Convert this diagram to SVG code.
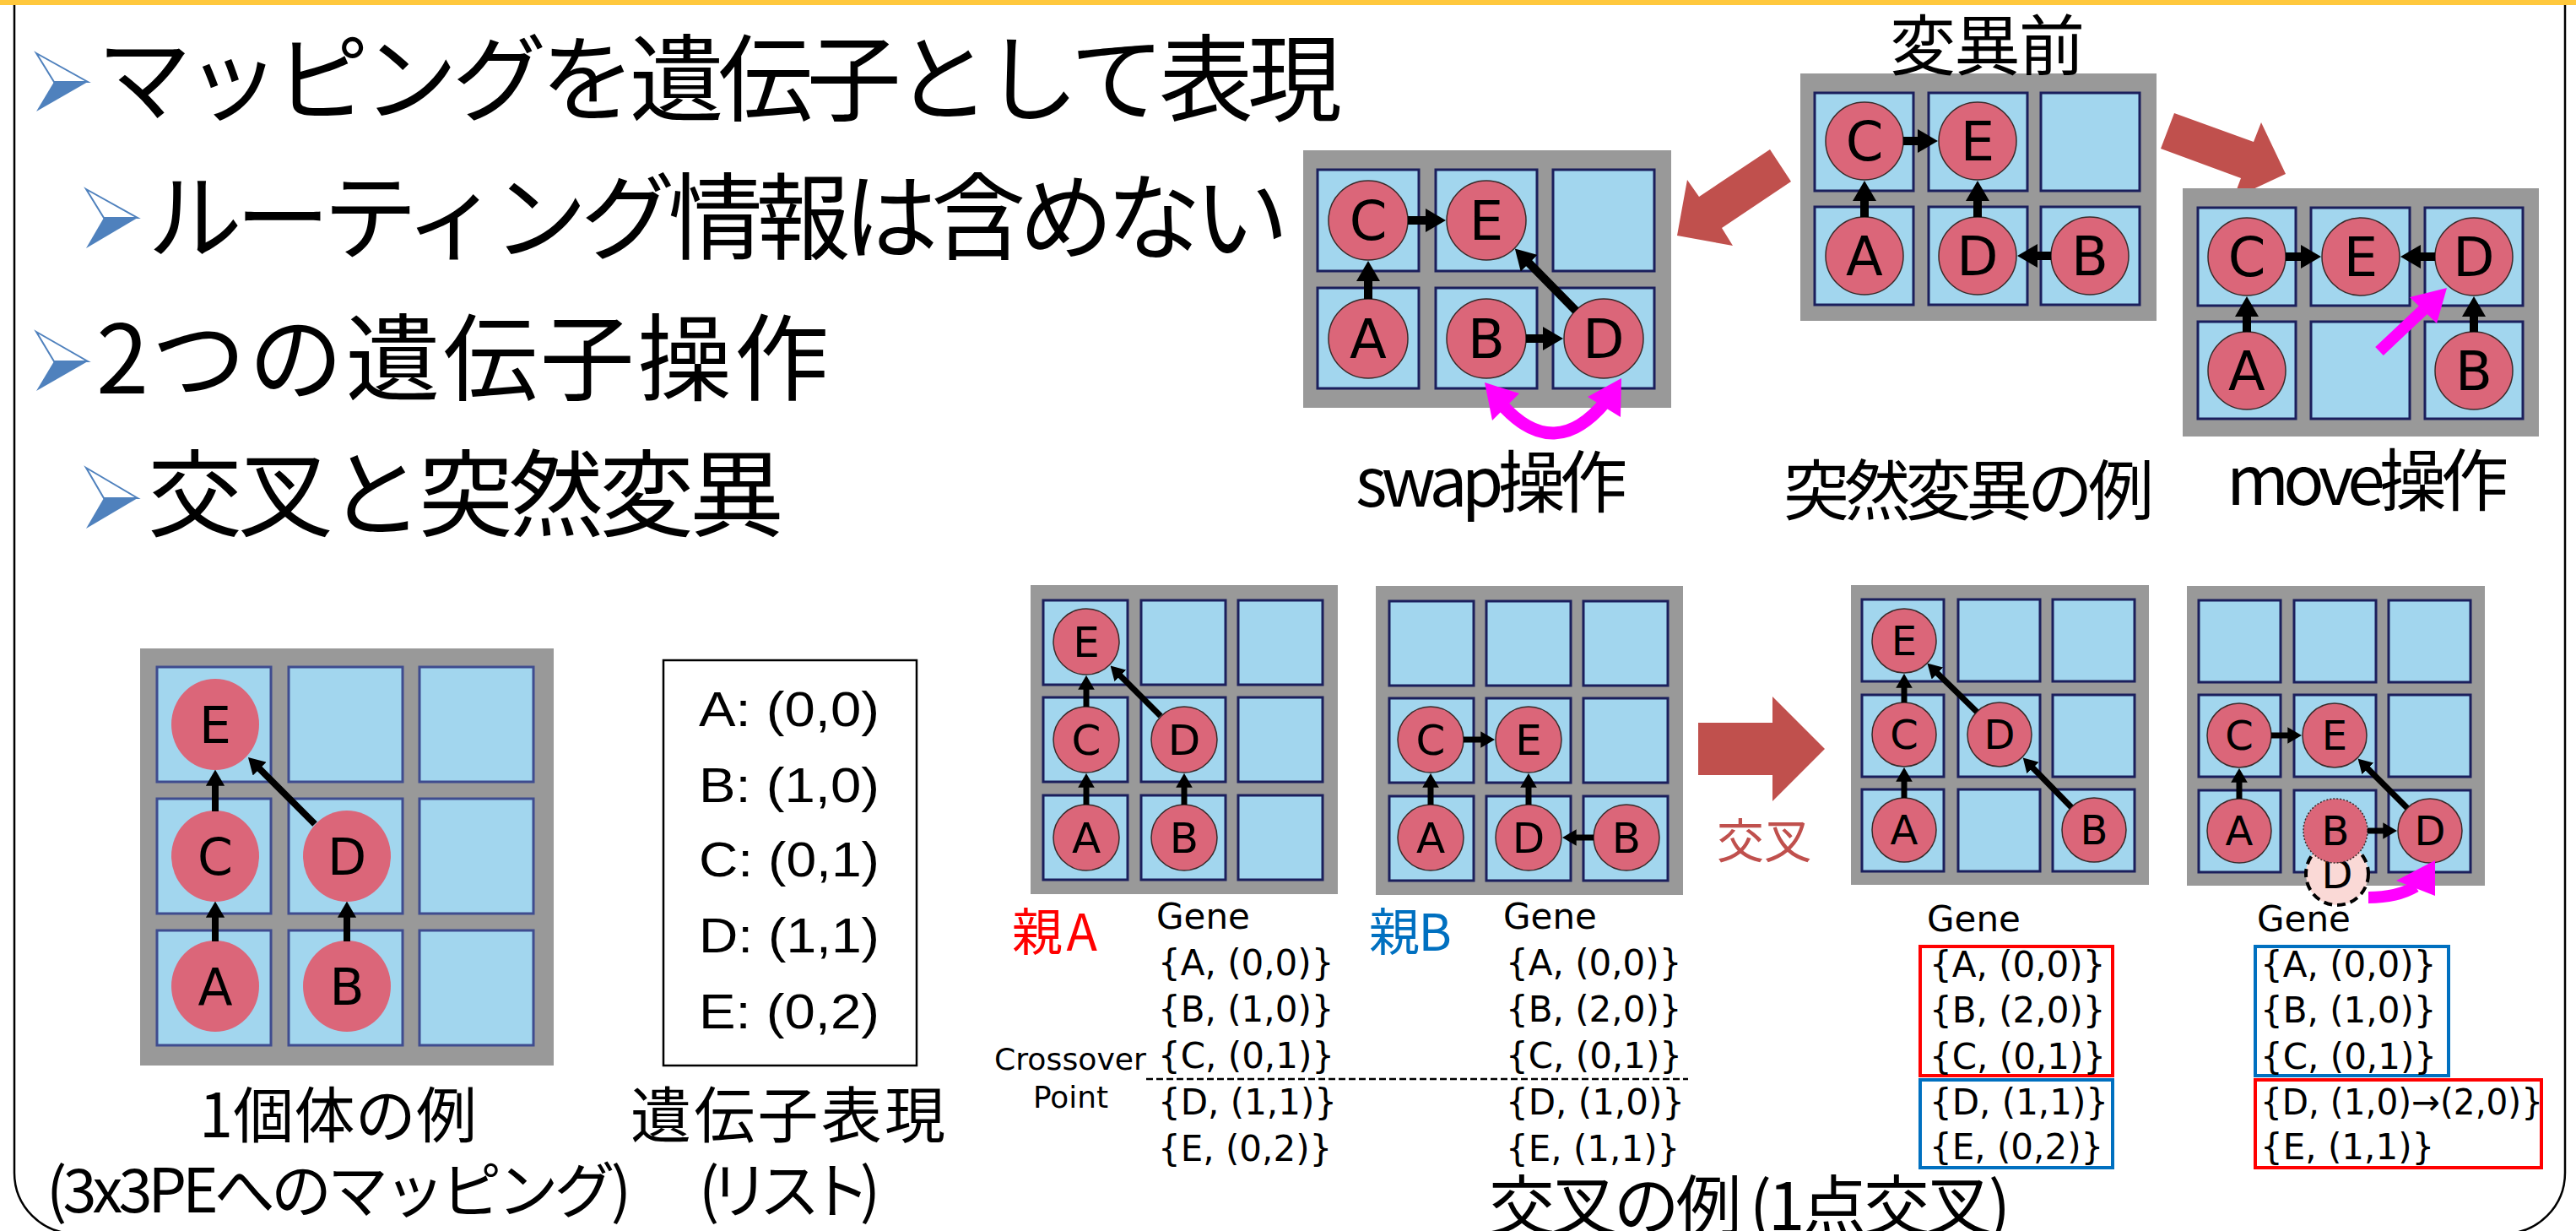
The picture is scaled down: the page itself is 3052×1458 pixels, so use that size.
<svg xmlns="http://www.w3.org/2000/svg" width="3052" height="1458" viewBox="0 0 3052 1458">
<defs>
<style>
.gray{fill:#999999}
.cell{fill:#A2D6EE;stroke:#1B1F5C;stroke-width:3}
.cellsoft{fill:#A2D6EE;stroke:#3F4C8F;stroke-width:3}
.node circle,.node ellipse{fill:#DB6679;stroke:#3A2A2A;stroke-width:1.5}
.soft ellipse{stroke:none}
.nl{font-family:"DejaVu Sans",sans-serif;text-anchor:middle;fill:#000}
.f64{font-size:64px}.f60{font-size:60px}.f50{font-size:50px}.f48{font-size:48px}
.e10{stroke:#000;stroke-width:10;fill:none;marker-end:url(#ah)}
.e8{stroke:#000;stroke-width:8;fill:none;marker-end:url(#ah)}
.e7{stroke:#000;stroke-width:7;fill:none;marker-end:url(#ah)}
.jp{font-family:"Noto Sans CJK JP",sans-serif;fill:#000}
.title{font-size:112px}
.lab{font-size:80px}
.gene{font-family:"DejaVu Sans",sans-serif;font-size:42px;fill:#000}
.list{font-family:"Liberation Sans",sans-serif;font-size:58px;text-anchor:middle;fill:#000}
.bigarrow{fill:#C0504D}
.mag{fill:#FF00FF}
.magl{stroke:#FF00FF;fill:none}
</style>
<marker id="ah" viewBox="0 0 12 14" refX="0.5" refY="7" markerWidth="2.4" markerHeight="2.8" orient="auto" markerUnits="strokeWidth"><path d="M0,0 L12,7 L0,14 Z" fill="#000"/></marker>
</defs>
<rect width="3052" height="1458" fill="#fff"/>
<g id="frame">
<path d="M17,0 V1389 A72,72 0 0 0 89,1461 H2967 A72,72 0 0 0 3039,1389 V0" fill="none" stroke="#000" stroke-width="2.5"/>
<rect x="0" y="0" width="3052" height="6" fill="#FFC83D"/>
</g>

<g id="bullets">
<g id="b1"><polygon points="43,63 104,97 64,97" fill="#fff" stroke="#4F81BD" stroke-width="2"/><polygon points="64,97 104,97 43,132" fill="#4F81BD"/></g>
<g id="b2"><polygon points="102,224 163,258 123,258" fill="#fff" stroke="#4F81BD" stroke-width="2"/><polygon points="123,258 163,258 102,294" fill="#4F81BD"/></g>
<g id="b3"><polygon points="43,393 104,428 64,428" fill="#fff" stroke="#4F81BD" stroke-width="2"/><polygon points="64,428 104,428 43,463" fill="#4F81BD"/></g>
<g id="b4"><polygon points="102,554 163,590 123,590" fill="#fff" stroke="#4F81BD" stroke-width="2"/><polygon points="123,590 163,590 102,626" fill="#4F81BD"/></g>
<text class="jp title" x="115" y="135" textLength="1475" lengthAdjust="spacing">マッピングを遺伝子として表現</text>
<text class="jp title" x="175" y="299" textLength="1352" lengthAdjust="spacing">ルーティング情報は含めない</text>
<text class="jp title" x="114" y="466" textLength="868" lengthAdjust="spacing">2つの遺伝子操作</text>
<text class="jp title" x="175" y="627" textLength="754" lengthAdjust="spacing">交叉と突然変異</text>
</g>

<!-- big red arrows -->
<g id="redarrows">
<polygon class="bigarrow" points="2097,177 2122,215 2040,270 2053,291 1987,279 1999,213 2013,233"/>
<polygon class="bigarrow" points="2576,134 2670,168 2679,145 2708,206 2646,235 2655,211 2560,176"/>
<polygon class="bigarrow" points="2012,856 2100,856 2100,825 2162,887 2100,949 2100,918 2012,918"/>
<text class="jp" x="2034" y="1016" font-size="56" style="fill:#C0504D" textLength="112" lengthAdjust="spacing">交叉</text>
</g>

<!-- swap grid -->
<g id="swap">
<rect class="gray" x="1544" y="178" width="436" height="305"/>
<rect class="cell" x="1561" y="201" width="120" height="120"/><rect class="cell" x="1701" y="201" width="120" height="120"/><rect class="cell" x="1840" y="201" width="120" height="120"/>
<rect class="cell" x="1561" y="341" width="120" height="119"/><rect class="cell" x="1701" y="341" width="120" height="119"/><rect class="cell" x="1840" y="341" width="120" height="119"/>
<g id="swap-C" class="node"><circle cx="1621" cy="261" r="47"/><text class="nl f64" x="1621" y="284">C</text></g>
<g id="swap-E" class="node"><circle cx="1761" cy="261" r="47"/><text class="nl f64" x="1761" y="284">E</text></g>
<g id="swap-A" class="node"><circle cx="1621" cy="401" r="47"/><text class="nl f64" x="1621" y="424">A</text></g>
<g id="swap-B" class="node"><circle cx="1761" cy="401" r="47"/><text class="nl f64" x="1761" y="424">B</text></g>
<g id="swap-D" class="node"><circle cx="1900" cy="401" r="47"/><text class="nl f64" x="1900" y="424">D</text></g>
</g>
<!-- before grid -->
<g id="before">
<rect class="gray" x="2133" y="87" width="422" height="293"/>
<rect class="cell" x="2150" y="110" width="117" height="116"/><rect class="cell" x="2285" y="110" width="117" height="116"/><rect class="cell" x="2418" y="110" width="117" height="116"/>
<rect class="cell" x="2150" y="245" width="117" height="116"/><rect class="cell" x="2285" y="245" width="117" height="116"/><rect class="cell" x="2418" y="245" width="117" height="116"/>
<g id="before-C" class="node"><circle cx="2209" cy="167" r="46"/><text class="nl f64" x="2209" y="190">C</text></g>
<g id="before-E" class="node"><circle cx="2343" cy="167" r="46"/><text class="nl f64" x="2343" y="190">E</text></g>
<g id="before-A" class="node"><circle cx="2209" cy="303" r="46"/><text class="nl f64" x="2209" y="326">A</text></g>
<g id="before-D" class="node"><circle cx="2343" cy="303" r="46"/><text class="nl f64" x="2343" y="326">D</text></g>
<g id="before-B" class="node"><circle cx="2476" cy="303" r="46"/><text class="nl f64" x="2476" y="326">B</text></g>
</g>
<!-- move grid -->
<g id="move">
<rect class="gray" x="2586" y="223" width="422" height="294"/>
<rect class="cell" x="2604" y="246" width="116" height="116"/><rect class="cell" x="2738" y="246" width="117" height="116"/><rect class="cell" x="2873" y="246" width="116" height="116"/>
<rect class="cell" x="2604" y="381" width="116" height="115"/><rect class="cell" x="2738" y="381" width="117" height="115"/><rect class="cell" x="2873" y="381" width="116" height="115"/>
<g id="move-C" class="node"><circle cx="2662" cy="304" r="46"/><text class="nl f64" x="2662" y="327">C</text></g>
<g id="move-E" class="node"><circle cx="2797" cy="304" r="46"/><text class="nl f64" x="2797" y="327">E</text></g>
<g id="move-D" class="node"><circle cx="2931" cy="304" r="46"/><text class="nl f64" x="2931" y="327">D</text></g>
<g id="move-A" class="node"><circle cx="2662" cy="439" r="46"/><text class="nl f64" x="2662" y="462">A</text></g>
<g id="move-B" class="node"><circle cx="2931" cy="439" r="46"/><text class="nl f64" x="2931" y="462">B</text></g>
</g>

<!-- individual example -->
<g id="indiv">
<rect class="gray" x="166" y="768" width="490" height="494"/>
<rect class="cellsoft" x="186" y="790" width="135" height="136"/><rect class="cellsoft" x="342" y="790" width="135" height="136"/><rect class="cellsoft" x="497" y="790" width="135" height="136"/>
<rect class="cellsoft" x="186" y="946" width="135" height="136"/><rect class="cellsoft" x="342" y="946" width="135" height="136"/><rect class="cellsoft" x="497" y="946" width="135" height="136"/>
<rect class="cellsoft" x="186" y="1102" width="135" height="136"/><rect class="cellsoft" x="342" y="1102" width="135" height="136"/><rect class="cellsoft" x="497" y="1102" width="135" height="136"/>
<g id="indiv-E" class="node soft"><ellipse cx="255" cy="858" rx="52" ry="54"/><text class="nl f60" x="255" y="880">E</text></g>
<g id="indiv-C" class="node soft"><ellipse cx="255" cy="1014" rx="52" ry="54"/><text class="nl f60" x="255" y="1036">C</text></g>
<g id="indiv-D" class="node soft"><ellipse cx="411" cy="1014" rx="52" ry="54"/><text class="nl f60" x="411" y="1036">D</text></g>
<g id="indiv-A" class="node soft"><ellipse cx="255" cy="1168" rx="52" ry="54"/><text class="nl f60" x="255" y="1190">A</text></g>
<g id="indiv-B" class="node soft"><ellipse cx="411" cy="1168" rx="52" ry="54"/><text class="nl f60" x="411" y="1190">B</text></g>
</g>
<g id="genelist">
<rect x="786" y="782" width="300" height="480" fill="none" stroke="#000" stroke-width="2.5"/>
<text class="list" x="935" y="860" textLength="214" lengthAdjust="spacingAndGlyphs">A: (0,0)</text>
<text class="list" x="935" y="950" textLength="214" lengthAdjust="spacingAndGlyphs">B: (1,0)</text>
<text class="list" x="935" y="1038" textLength="214" lengthAdjust="spacingAndGlyphs">C: (0,1)</text>
<text class="list" x="935" y="1128" textLength="214" lengthAdjust="spacingAndGlyphs">D: (1,1)</text>
<text class="list" x="935" y="1218" textLength="214" lengthAdjust="spacingAndGlyphs">E: (0,2)</text>
</g>

<!-- parent A -->
<g id="parentA">
<rect class="gray" x="1221" y="693" width="364" height="366"/>
<rect class="cell" x="1236" y="711" width="100" height="100"/><rect class="cell" x="1352" y="711" width="100" height="100"/><rect class="cell" x="1467" y="711" width="100" height="100"/>
<rect class="cell" x="1236" y="826" width="100" height="100"/><rect class="cell" x="1352" y="826" width="100" height="100"/><rect class="cell" x="1467" y="826" width="100" height="100"/>
<rect class="cell" x="1236" y="942" width="100" height="100"/><rect class="cell" x="1352" y="942" width="100" height="100"/><rect class="cell" x="1467" y="942" width="100" height="100"/>
<g id="pA-E" class="node"><circle cx="1287" cy="760" r="39"/><text class="nl f50" x="1287" y="778">E</text></g>
<g id="pA-C" class="node"><circle cx="1287" cy="876" r="39"/><text class="nl f50" x="1287" y="894">C</text></g>
<g id="pA-A" class="node"><circle cx="1287" cy="992" r="39"/><text class="nl f50" x="1287" y="1010">A</text></g>
<g id="pA-D" class="node"><circle cx="1403" cy="876" r="39"/><text class="nl f50" x="1403" y="894">D</text></g>
<g id="pA-B" class="node"><circle cx="1403" cy="992" r="39"/><text class="nl f50" x="1403" y="1010">B</text></g>
</g>
<!-- parent B -->
<g id="parentB">
<rect class="gray" x="1630" y="694" width="364" height="366"/>
<rect class="cell" x="1646" y="712" width="100" height="100"/><rect class="cell" x="1761" y="712" width="100" height="100"/><rect class="cell" x="1876" y="712" width="100" height="100"/>
<rect class="cell" x="1646" y="827" width="100" height="100"/><rect class="cell" x="1761" y="827" width="100" height="100"/><rect class="cell" x="1876" y="827" width="100" height="100"/>
<rect class="cell" x="1646" y="943" width="100" height="100"/><rect class="cell" x="1761" y="943" width="100" height="100"/><rect class="cell" x="1876" y="943" width="100" height="100"/>
<g id="pB-C" class="node"><circle cx="1695" cy="876" r="39"/><text class="nl f50" x="1695" y="894">C</text></g>
<g id="pB-E" class="node"><circle cx="1811" cy="876" r="39"/><text class="nl f50" x="1811" y="894">E</text></g>
<g id="pB-A" class="node"><circle cx="1695" cy="992" r="39"/><text class="nl f50" x="1695" y="1010">A</text></g>
<g id="pB-D" class="node"><circle cx="1811" cy="992" r="39"/><text class="nl f50" x="1811" y="1010">D</text></g>
<g id="pB-B" class="node"><circle cx="1927" cy="992" r="39"/><text class="nl f50" x="1927" y="1010">B</text></g>
</g>
<!-- child 1 -->
<g id="child1">
<rect class="gray" x="2193" y="693" width="353" height="355"/>
<rect class="cell" x="2206" y="710" width="97" height="97"/><rect class="cell" x="2320" y="710" width="97" height="97"/><rect class="cell" x="2432" y="710" width="97" height="97"/>
<rect class="cell" x="2206" y="823" width="97" height="97"/><rect class="cell" x="2320" y="823" width="97" height="97"/><rect class="cell" x="2432" y="823" width="97" height="97"/>
<rect class="cell" x="2206" y="935" width="97" height="97"/><rect class="cell" x="2320" y="935" width="97" height="97"/><rect class="cell" x="2432" y="935" width="97" height="97"/>
<g id="c1-E" class="node"><circle cx="2256" cy="759" r="38"/><text class="nl f48" x="2256" y="776">E</text></g>
<g id="c1-C" class="node"><circle cx="2256" cy="870" r="38"/><text class="nl f48" x="2256" y="887">C</text></g>
<g id="c1-A" class="node"><circle cx="2256" cy="983" r="38"/><text class="nl f48" x="2256" y="1000">A</text></g>
<g id="c1-D" class="node"><circle cx="2369" cy="870" r="38"/><text class="nl f48" x="2369" y="887">D</text></g>
<g id="c1-B" class="node"><circle cx="2481" cy="983" r="38"/><text class="nl f48" x="2481" y="1000">B</text></g>
</g>
<!-- child 2 -->
<g id="child2">
<rect class="gray" x="2591" y="694" width="353" height="355"/>
<rect class="cell" x="2605" y="711" width="97" height="97"/><rect class="cell" x="2718" y="711" width="97" height="97"/><rect class="cell" x="2830" y="711" width="97" height="97"/>
<rect class="cell" x="2605" y="823" width="97" height="97"/><rect class="cell" x="2718" y="823" width="97" height="97"/><rect class="cell" x="2830" y="823" width="97" height="97"/>
<rect class="cell" x="2605" y="936" width="97" height="97"/><rect class="cell" x="2718" y="936" width="97" height="97"/><rect class="cell" x="2830" y="936" width="97" height="97"/>
<g id="c2-ghostD"><circle cx="2769" cy="1035" r="37" fill="#FAD9D6" stroke="#000" stroke-width="4" stroke-dasharray="10,6"/><text class="nl f48" x="2769" y="1052">D</text></g>
<g id="c2-C" class="node"><circle cx="2653" cy="871" r="38"/><text class="nl f48" x="2653" y="888">C</text></g>
<g id="c2-E" class="node"><circle cx="2766" cy="871" r="38"/><text class="nl f48" x="2766" y="888">E</text></g>
<g id="c2-A" class="node"><circle cx="2653" cy="984" r="38"/><text class="nl f48" x="2653" y="1001">A</text></g>
<g id="c2-B" class="node"><circle cx="2767" cy="984" r="38" style="stroke-dasharray:2,2"/><text class="nl f48" x="2767" y="1001">B</text></g>
<g id="c2-D" class="node"><circle cx="2879" cy="984" r="38"/><text class="nl f48" x="2879" y="1001">D</text></g>
</g>

<!-- connectors -->
<g id="connectors">
<path class="e10" d="M1668,261 L1690,261"/>
<path class="e10" d="M1621,354 L1621,332"/>
<path class="e10" d="M1808,401 L1829,401"/>
<path class="e10" d="M1867,368 L1811,311"/>
<path class="e10" d="M2255,167 L2273,167"/>
<path class="e10" d="M2209,257 L2209,237"/>
<path class="e10" d="M2343,257 L2343,237"/>
<path class="e10" d="M2430,303 L2413,303"/>
<path class="e10" d="M2708,304 L2727,304"/>
<path class="e10" d="M2885,304 L2867,304"/>
<path class="e10" d="M2662,393 L2662,374"/>
<path class="e10" d="M2931,393 L2931,374"/>
<path class="e8" d="M255,1115 L255,1086"/>
<path class="e8" d="M255,961 L255,930"/>
<path class="e8" d="M411,1115 L411,1086"/>
<path class="e8" d="M373,976 L307,910"/>
<path class="e7" d="M1287,953 L1287,932"/>
<path class="e7" d="M1287,837 L1287,816"/>
<path class="e7" d="M1403,953 L1403,932"/>
<path class="e7" d="M1375,848 L1327,800"/>
<path class="e7" d="M1734,876 L1755,876"/>
<path class="e7" d="M1695,953 L1695,932"/>
<path class="e7" d="M1811,953 L1811,932"/>
<path class="e7" d="M1888,992 L1867,992"/>
<path class="e7" d="M2256,945 L2256,925"/>
<path class="e7" d="M2256,832 L2256,814"/>
<path class="e7" d="M2342,843 L2295,797"/>
<path class="e7" d="M2454,956 L2408,909"/>
<path class="e7" d="M2691,871 L2711,871"/>
<path class="e7" d="M2653,946 L2653,926"/>
<path class="e7" d="M2805,984 L2824,984"/>
<path class="e7" d="M2852,957 L2805,910"/>
<!-- magenta arrows -->
<path class="magl" stroke-width="15" d="M1780,480 Q1842,548 1902,476"/>
<polygon class="mag" points="1759,453 1800,466 1768,498"/>
<polygon class="mag" points="1921,448 1920,494 1881,470"/>
<path class="magl" stroke-width="14" d="M2819,416 L2871,367"/>
<polygon class="mag" points="2899,341 2855,352 2887,383"/>
<path class="magl" stroke-width="14" d="M2806,1063 Q2840,1063 2862,1050"/>
<polygon class="mag" points="2885,1019 2839,1043 2885,1061"/>
</g>

<!-- labels -->
<g id="labels">
<text class="jp" x="2239" y="83" font-size="78" textLength="231" lengthAdjust="spacing">変異前</text>
<text class="jp lab" x="1606" y="600" textLength="322" lengthAdjust="spacing">swap操作</text>
<text class="jp" x="2113" y="610" font-size="78" textLength="439" lengthAdjust="spacing">突然変異の例</text>
<text class="jp lab" x="2638" y="598" textLength="334" lengthAdjust="spacing">move操作</text>
<text class="jp" x="236" y="1347" font-size="72" textLength="329" lengthAdjust="spacing">1個体の例</text>
<text class="jp" x="55" y="1436" font-size="72" textLength="693" lengthAdjust="spacing">(3x3PEへのマッピング)</text>
<text class="jp" x="747" y="1347" font-size="72" textLength="373" lengthAdjust="spacing">遺伝子表現</text>
<text class="jp" x="828" y="1436" font-size="72" textLength="215" lengthAdjust="spacing">(リスト)</text>
<text class="jp" x="1764" y="1457" font-size="78" textLength="618" lengthAdjust="spacing">交叉の例 (1点交叉)</text>
<text class="jp" x="1199" y="1126" font-size="60" style="fill:#FF0000" textLength="101" lengthAdjust="spacing">親A</text>
<text class="jp" x="1622" y="1126" font-size="60" style="fill:#0070C0" textLength="98" lengthAdjust="spacing">親B</text>
<text class="gene" x="1178" y="1267" style="font-size:36px" textLength="180" lengthAdjust="spacingAndGlyphs">Crossover</text>
<text class="gene" x="1224" y="1312" style="font-size:36px" textLength="89" lengthAdjust="spacingAndGlyphs">Point</text>
<line x1="1358" y1="1278" x2="2000" y2="1278" stroke="#000" stroke-width="2.5" stroke-dasharray="8,4"/>
<text class="gene" x="1370" y="1100">Gene</text>
<text class="gene" x="1372" y="1155">{A, (0,0)}</text>
<text class="gene" x="1372" y="1210">{B, (1,0)}</text>
<text class="gene" x="1372" y="1265">{C, (0,1)}</text>
<text class="gene" x="1372" y="1320">{D, (1,1)}</text>
<text class="gene" x="1372" y="1375">{E, (0,2)}</text>
<text class="gene" x="1781" y="1100">Gene</text>
<text class="gene" x="1784" y="1155">{A, (0,0)}</text>
<text class="gene" x="1784" y="1210">{B, (2,0)}</text>
<text class="gene" x="1784" y="1265">{C, (0,1)}</text>
<text class="gene" x="1784" y="1320">{D, (1,0)}</text>
<text class="gene" x="1784" y="1375">{E, (1,1)}</text>
<text class="gene" x="2283" y="1103">Gene</text>
<rect x="2275" y="1121" width="228" height="153" fill="none" stroke="#FF0000" stroke-width="4"/>
<rect x="2275" y="1279" width="228" height="104" fill="none" stroke="#0070C0" stroke-width="4"/>
<text class="gene" x="2286" y="1157">{A, (0,0)}</text>
<text class="gene" x="2286" y="1211">{B, (2,0)}</text>
<text class="gene" x="2286" y="1266">{C, (0,1)}</text>
<text class="gene" x="2286" y="1320">{D, (1,1)}</text>
<text class="gene" x="2286" y="1373">{E, (0,2)}</text>
<text class="gene" x="2674" y="1103">Gene</text>
<rect x="2672" y="1121" width="229" height="153" fill="none" stroke="#0070C0" stroke-width="4"/>
<rect x="2672" y="1279" width="339" height="104" fill="none" stroke="#FF0000" stroke-width="4"/>
<text class="gene" x="2678" y="1157">{A, (0,0)}</text>
<text class="gene" x="2678" y="1211">{B, (1,0)}</text>
<text class="gene" x="2678" y="1266">{C, (0,1)}</text>
<text class="gene" x="2678" y="1320" textLength="335" lengthAdjust="spacingAndGlyphs">{D, (1,0)→(2,0)}</text>
<text class="gene" x="2678" y="1373">{E, (1,1)}</text>
</g>
</svg>
